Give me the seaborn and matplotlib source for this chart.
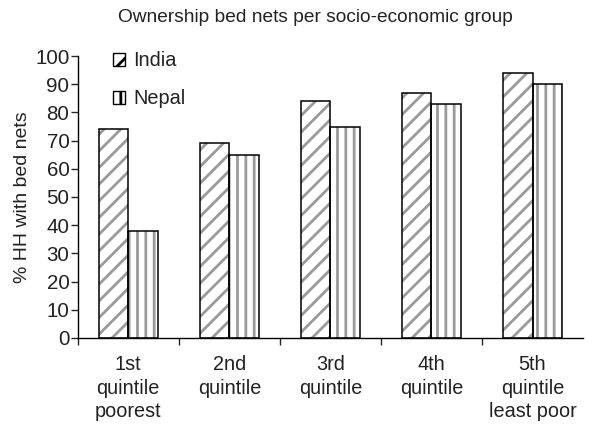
import matplotlib
matplotlib.use("Agg")
import matplotlib.pyplot as plt
from matplotlib.patches import Patch
import seaborn as sns
import pandas as pd

quintiles = ["1st\nquintile\npoorest", "2nd\nquintile", "3rd\nquintile",
             "4th\nquintile", "5th\nquintile\nleast poor"]
india = [74, 69, 84, 87, 94]
nepal = [38, 65, 75, 83, 90]
countries = ["India", "Nepal"]
hatches = ["//", "||"]

df = pd.DataFrame({
    "quintile": quintiles * 2,
    "country": ["India"] * 5 + ["Nepal"] * 5,
    "value": india + nepal,
})

sns.set_style("white")
plt.rcParams["font.family"] = ["Liberation Sans", "DejaVu Sans"]
plt.rcParams["hatch.color"] = "#9a9a9a"
plt.rcParams["hatch.linewidth"] = 2.0

txt = "#222222"
fig = plt.figure(figsize=(5.98, 4.25), dpi=100)
ax = fig.add_axes([0.130, 0.205, 0.845, 0.663])

# hatched fill first (grey hatch), then black outlines on top
sns.barplot(data=df, x="quintile", y="value", hue="country", order=quintiles,
            hue_order=countries, width=0.58, palette=["white", "white"],
            edgecolor="#9a9a9a", linewidth=0, legend=False, ax=ax)
for i, bar in enumerate(ax.patches):
    bar.set_hatch(hatches[i // 5])
sns.barplot(data=df, x="quintile", y="value", hue="country", order=quintiles,
            hue_order=countries, width=0.58, fill=False, edgecolor="black",
            linewidth=1.1, legend=False, ax=ax)

ax.set_ylim(0, 100)
ax.set_xlim(-0.5, 4.5)
ax.set_yticks(range(0, 101, 10))
ax.set_xlabel("")
ax.set_ylabel("% HH with bed nets", fontsize=14, color=txt, labelpad=3)
sns.despine(ax=ax)
for s in ["left", "bottom"]:
    ax.spines[s].set_color("black")
    ax.spines[s].set_linewidth(1.0)

ax.tick_params(axis="y", which="major", left=True, length=5, width=1,
               labelsize=14.8, labelcolor=txt, pad=1)
ax.tick_params(axis="x", which="major", bottom=False, labelsize=14.3,
               labelcolor=txt, pad=9)
for lab in ax.get_xticklabels():
    lab.set_linespacing(1.3)
ax.set_xticks([-0.5, 0.5, 1.5, 2.5, 3.5], minor=True)
ax.tick_params(axis="x", which="minor", bottom=True, length=5, width=1)

handles = [Patch(facecolor="white", edgecolor="black", hatch=h, linewidth=1)
           for h in ["//", "||"]]
ax.legend(handles, countries, loc="upper left", bbox_to_anchor=(0.035, 1.08),
          frameon=False, fontsize=14.3, handlelength=0.6, handleheight=0.6,
          labelspacing=0.95, handletextpad=0.4, labelcolor=txt)

fig.text(0.527, 0.96, "Ownership bed nets per socio-economic group",
         ha="center", va="center", fontsize=13.8, color=txt)

fig.savefig("out.png", dpi=100)
